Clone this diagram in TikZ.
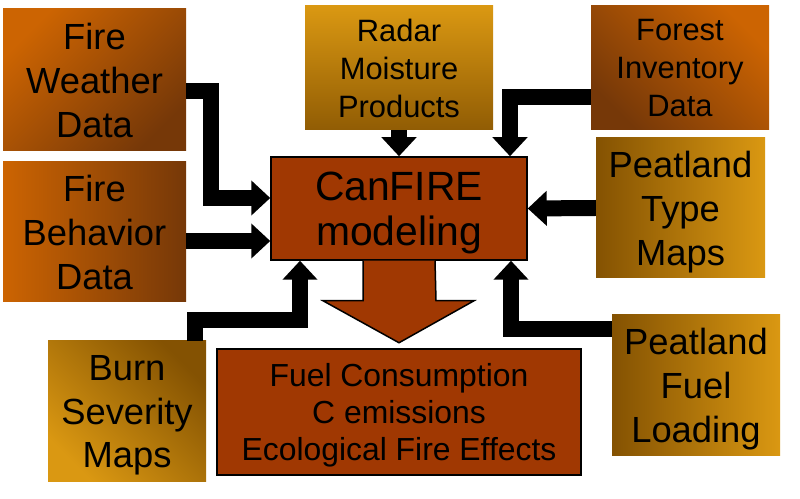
\documentclass[tikz,border=0pt]{standalone}
\usepackage{fontspec}
\setmainfont{Liberation Sans}
\usetikzlibrary{arrows.meta}
\definecolor{firelight}{RGB}{204,100,2}
\definecolor{firedark}{RGB}{118,56,8}
\definecolor{goldlight}{RGB}{218,152,18}
\definecolor{golddark}{RGB}{132,82,2}
\definecolor{corefill}{RGB}{160,56,2}
\tikzset{
  inbox/.style={align=center,inner sep=0pt,text depth=0pt,font=\fontsize{36.5}{44}\selectfont},
  smallbox/.style={inbox,font=\fontsize{31}{38}\selectfont},
  corebox/.style={draw=black,line width=1.5bp,fill=corefill,align=center,inner sep=0pt,text depth=0pt},
  flow/.style={line width=16bp,black,-{Triangle[width=34bp,length=19bp]}},
}
\begin{document}
\begin{tikzpicture}[line join=miter]
\useasboundingbox (0,0) rectangle (800bp,499bp);
%% input boxes
\node (fireweather) at (94.5bp,419bp) [inbox,minimum width=183bp,minimum height=142bp,top color=firelight,bottom color=firedark,shading angle=45] {Fire\\Weather\\Data};
\node (firebehavior) at (94.5bp,267bp) [inbox,minimum width=183bp,minimum height=140bp,left color=firelight,right color=firedark] {Fire\\Behavior\\Data};
\node (radar) at (399bp,431bp) [smallbox,minimum width=188bp,minimum height=124bp,top color=goldlight,bottom color=golddark!85!goldlight] {Radar\\Moisture\\Products};
\node (forest) at (680bp,431bp) [smallbox,minimum width=178bp,minimum height=124bp,top color=firelight,bottom color=firedark,shading angle=-45] {Forest\\Inventory\\Data};
\node (peattype) at (680.5bp,291bp) [inbox,minimum width=169bp,minimum height=140bp,left color=golddark,right color=goldlight] {Peatland\\Type\\Maps};
\node (burn) at (127bp,87.5bp) [inbox,minimum width=158bp,minimum height=141bp,top color=golddark,bottom color=goldlight,shading angle=-45] {Burn\\Severity\\Maps};
\node (peatfuel) at (696bp,113.5bp) [inbox,minimum width=168bp,minimum height=141bp,left color=golddark,right color=goldlight] {Peatland\\Fuel\\Loading};
%% model and results
\node (canfire) at (399bp,290.5bp) [corebox,minimum width=256bp,minimum height=103bp,font=\fontsize{41}{45}\selectfont] {CanFIRE\\modeling};
\node (result) at (399bp,87bp) [corebox,minimum width=364bp,minimum height=126bp,font=\fontsize{32}{37.5}\selectfont] {Fuel Consumption\\C emissions\\Ecological Fire Effects};
%% bends
\coordinate (bendweather) at (211bp,301bp);
\coordinate (bendburn) at (300bp,179bp);
%% connectors
\draw [flow] ([yshift=-11bp]fireweather.east) -| (bendweather) -- (bendweather -| canfire.west);
\draw [flow] ([yshift=-9bp]firebehavior.east) -- ([yshift=-32.5bp]canfire.west);
\draw [flow] (radar.south) -- (canfire.north);
\draw [flow] ([yshift=-29bp]forest.west) -| ([xshift=111bp]canfire.north);
\draw [flow] (peattype.west) -- (canfire.east);
\draw [flow] ([yshift=56bp]peatfuel.west) -| ([xshift=112bp]canfire.south);
\draw [flow] ([xshift=68bp]burn.north) |- (bendburn) -- (bendburn |- canfire.south);
%% output arrow
\draw [draw=black,line width=1.5bp,fill=corefill] ([xshift=-36bp]canfire.south) -- ++(0,-40bp) -- ++(-40bp,0) -- ([yshift=-82bp]canfire.south) -- ++(75bp,42bp) -- ++(-38bp,0) -- ([xshift=36bp]canfire.south);
%
\end{tikzpicture}
\end{document}
